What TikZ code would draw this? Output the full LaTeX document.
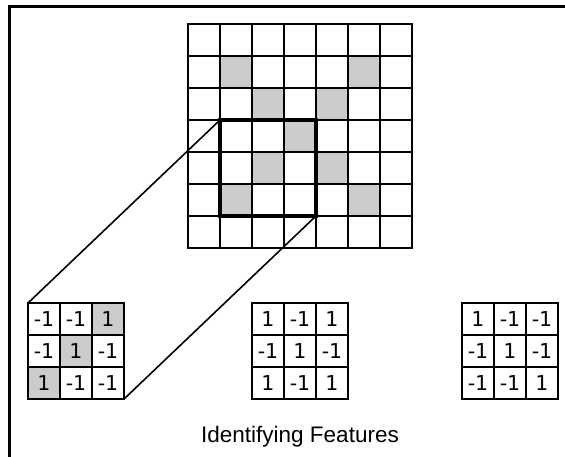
\documentclass[tikz,border=0pt]{standalone}
\usepackage{fontspec}
\setmainfont{Liberation Sans}
\newfontfamily\digitfont{DejaVu Sans}
\definecolor{cellshade}{RGB}{204,204,204}
\begin{document}
\begin{tikzpicture}[x=1pt,y=-1pt,
  cell/.style={draw=black,line width=1.7pt,minimum size=32pt,inner sep=0pt,outer sep=0pt,
    font=\digitfont\fontsize{20.5}{20.5}\selectfont},
  window/.style={draw=black,line width=3.2pt,minimum size=96pt,inner sep=0pt,outer sep=0pt},
  zoomline/.style={draw=black,line width=1.6pt},
  frame/.style={draw=black,line width=3pt,line join=miter},
  caption/.style={font=\fontsize{22.5}{24}\selectfont,inner sep=0pt}]

\useasboundingbox (0,0) rectangle (565,456);

% frame (top and left edges)
\coordinate (frameTR) at (570,6.2);
\coordinate (frameTL) at (9.2,6.2);
\coordinate (frameBL) at (9.2,460);
\draw[frame] (frameTR) -- (frameTL) -- (frameBL);

% 7x7 input image: shaded pixels first, then the cell borders
\foreach \r/\c in {1/1,1/5,2/2,2/4,3/3,4/2,4/4,5/1,5/5}
  \fill[cellshade] ({188+32*\c},{24+32*\r}) rectangle ++(32,32);
\foreach \r in {0,...,6}
  \foreach \c in {0,...,6}
    \node[cell,anchor=north west] (img-\r-\c) at ({188+32*\c},{24+32*\r}) {};

% 3x3 receptive window
\node[window,anchor=north west] (window) at (220,120) {};

% filter 1 (diagonal)
\foreach \r/\c/\v/\f in {0/0/-1/none,0/1/-1/none,0/2/1/cellshade,
                         1/0/-1/none,1/1/1/cellshade,1/2/-1/none,
                         2/0/1/cellshade,2/1/-1/none,2/2/-1/none}
  \node[cell,fill=\f,anchor=north west] (ka-\r-\c) at ({28+32*\c},{303+32*\r}) {\v};

% filter 2 (cross)
\foreach \r/\c/\v in {0/0/1,0/1/-1,0/2/1,
                      1/0/-1,1/1/1,1/2/-1,
                      2/0/1,2/1/-1,2/2/1}
  \node[cell,anchor=north west] (kb-\r-\c) at ({252+32*\c},{303+32*\r}) {\v};

% filter 3 (anti-diagonal)
\foreach \r/\c/\v in {0/0/1,0/1/-1,0/2/-1,
                      1/0/-1,1/1/1,1/2/-1,
                      2/0/-1,2/1/-1,2/2/1}
  \node[cell,anchor=north west] (kc-\r-\c) at ({462+32*\c},{303+32*\r}) {\v};

% projection lines from the window to filter 1
\draw[zoomline] (ka-0-0.north west) -- (window.north west);
\draw[zoomline] (ka-2-2.south east) -- (window.south east);

\node[caption,anchor=base] (title) at (300,442) {Identifying Features};
\end{tikzpicture}
\end{document}
